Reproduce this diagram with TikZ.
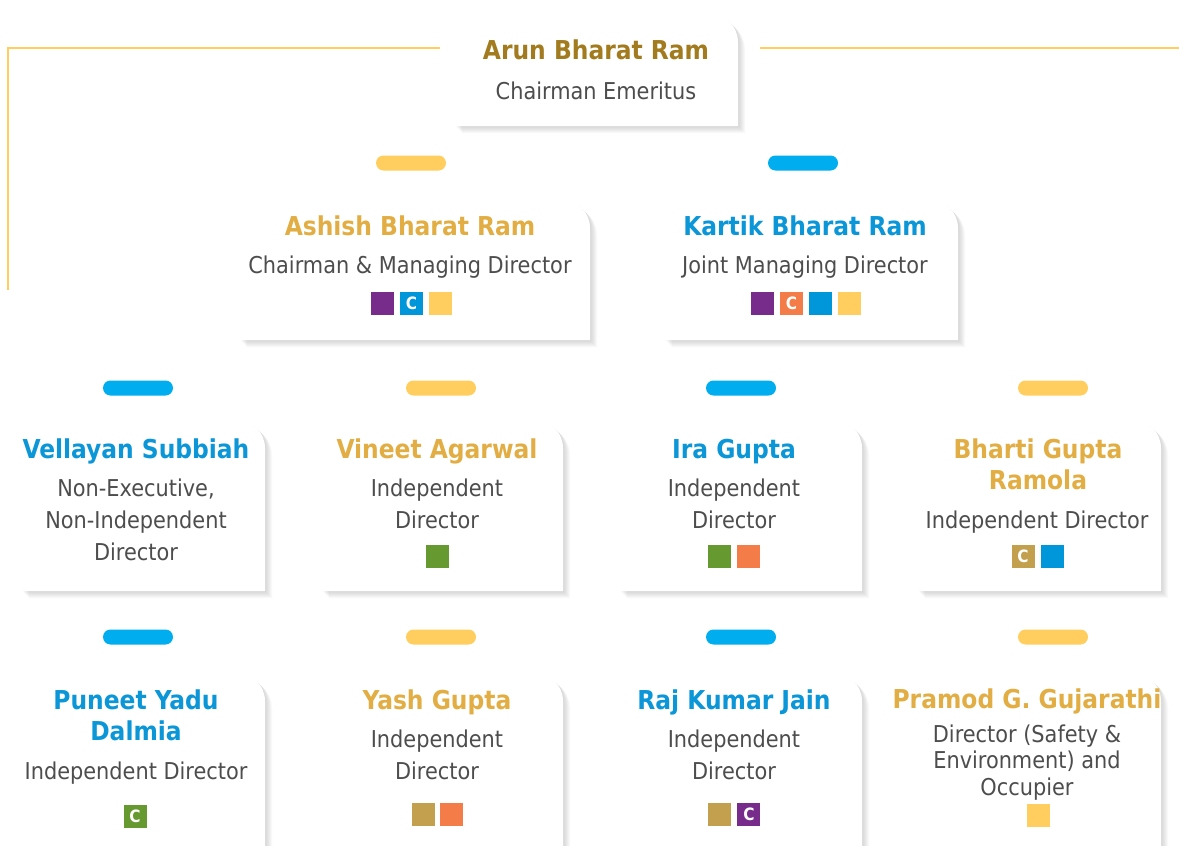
\documentclass[tikz,border=0pt]{standalone}
\usepackage{fontspec}
\setmainfont{DejaVu Sans Condensed}
\usepackage{tikz}
\usetikzlibrary{positioning}

\definecolor{arungold}{HTML}{A37B1F}
\definecolor{namegold}{HTML}{E2AE44}
\definecolor{nameblue}{HTML}{0B96D8}
\definecolor{rolegray}{HTML}{4D4D4D}
\definecolor{pillyellow}{HTML}{FFCE5E}
\definecolor{pillblue}{HTML}{00AEEF}
\definecolor{sqpurple}{HTML}{772C8B}
\definecolor{sqblue}{HTML}{0096DA}
\definecolor{sqorange}{HTML}{F47C48}
\definecolor{sqgreen}{HTML}{66992F}
\definecolor{sqtan}{HTML}{C3A04E}

% white card, top right corner rounded, soft shadow: left, top, right, bottom
\newcommand{\card}[4]{%
  \foreach \d in {1,...,7}
    \fill[black, opacity=.025, shift={(\d,\d)}]
      (#1,#4) -- (#1,#2) [rounded corners=28pt] -- (#3,#2) [sharp corners] -- (#3,#4) -- cycle;
  \fill[white] (#1,#4) -- (#1,#2) [rounded corners=28pt] -- (#3,#2) [sharp corners] -- (#3,#4) -- cycle;
}

\begin{document}
\begin{tikzpicture}[
  x=1pt, y=-1pt,
  nm/.style={font=\bfseries\fontsize{26}{31}\selectfont, align=center, inner sep=0pt, anchor=base},
  goldname/.style={nm, text=namegold},
  bluename/.style={nm, text=nameblue},
  role/.style={font=\fontsize{23.2}{31.7}\selectfont, text=rolegray, align=center,
               inner sep=0pt, anchor=base},
  pill/.style={fill=#1, rounded corners=7.5pt, minimum width=70pt, minimum height=15pt,
               inner sep=0pt},
  sq/.style={fill=#1, minimum size=23pt, inner sep=0pt, text=white,
             font=\bfseries\fontsize{17}{17}\selectfont},
  link/.style={draw=pillyellow, line width=2.8pt}
]
\useasboundingbox (0,0) rectangle (1179,846);
\clip (0,0) rectangle (1179,846);

% cards
\card{455}{14}{738}{126}
\card{240}{200}{590}{340}
\card{665}{200}{958}{340}
\card{22}{420}{265}{591}
\card{322}{420}{563}{591}
\card{620}{420}{862}{591}
\card{918}{420}{1161}{591}
\card{22}{673}{265}{880}
\card{322}{673}{563}{880}
\card{620}{673}{862}{880}
\card{918}{673}{1161}{880}

% frame line
\coordinate (top-left) at (440,48);
\coordinate (left-end) at (8,290);
\coordinate (top-right) at (760,48);
\coordinate (right-end) at (1179,48);
\draw[link] (top-left) -| (left-end);
\draw[link] (top-right) -- (right-end);

% chairman emeritus (text nodes sit on the baseline of their last line)
\node[nm, text=arungold] (arun) at (596,59) {Arun Bharat Ram};
\node[role] (arun-role) at (596,99) {Chairman Emeritus};

% executive directors
\node[pill=pillyellow] (p-ashish) at (411,163) {};
\node[pill=pillblue] (p-kartik) at (803,163) {};
\node[goldname] (ashish) at (410,235) {Ashish Bharat Ram};
\node[role] (ashish-role) at (410,273) {Chairman \& Managing Director};
\node[sq=sqpurple] (ashish-s1) at (382.5,303.5) {};
\node[sq=sqblue, right=5.5pt of ashish-s1] (ashish-s2) {C};
\node[sq=pillyellow, right=5.5pt of ashish-s2] (ashish-s3) {};
\node[bluename] (kartik) at (805,235) {Kartik Bharat Ram};
\node[role] (kartik-role) at (805,273) {Joint Managing Director};
\node[sq=sqpurple] (kartik-s1) at (762.5,303.5) {};
\node[sq=sqorange, right=5.7pt of kartik-s1] (kartik-s2) {C};
\node[sq=sqblue, right=5.7pt of kartik-s2] (kartik-s3) {};
\node[sq=pillyellow, right=5.7pt of kartik-s3] (kartik-s4) {};

% third row
\node[pill=pillblue] (p-vellayan) at (138,388) {};
\node[pill=pillyellow] (p-vineet) at (441,388) {};
\node[pill=pillblue] (p-ira) at (741,388) {};
\node[pill=pillyellow] (p-bharti) at (1053,388) {};
\node[bluename] (vellayan) at (136,458) {Vellayan Subbiah};
\node[role] (vellayan-role) at (136,560) {Non-Executive,\\Non-Independent\\Director};
\node[goldname] (vineet) at (437,458) {Vineet Agarwal};
\node[role] (vineet-role) at (437,528) {Independent\\Director};
\node[sq=sqgreen] (vineet-s1) at (437.5,556.5) {};
\node[bluename] (ira) at (734,458) {Ira Gupta};
\node[role] (ira-role) at (734,528) {Independent\\Director};
\node[sq=sqgreen] (ira-s1) at (719.5,556.5) {};
\node[sq=sqorange, right=6pt of ira-s1] (ira-s2) {};
\node[goldname] (bharti) at (1038,489) {Bharti Gupta\\Ramola};
\node[role] (bharti-role) at (1037,528) {Independent Director};
\node[sq=sqtan] (bharti-s1) at (1023,556.5) {C};
\node[sq=sqblue, right=6.5pt of bharti-s1] (bharti-s2) {};

% fourth row
\node[pill=pillblue] (p-puneet) at (138,637) {};
\node[pill=pillyellow] (p-yash) at (441,637) {};
\node[pill=pillblue] (p-raj) at (741,637) {};
\node[pill=pillyellow] (p-pramod) at (1053,637) {};
\node[bluename] (puneet) at (136,740) {Puneet Yadu\\Dalmia};
\node[role] (puneet-role) at (136,779) {Independent Director};
\node[sq=sqgreen] (puneet-s1) at (135,816) {C};
\node[goldname] (yash) at (437,709) {Yash Gupta};
\node[role] (yash-role) at (437,779) {Independent\\Director};
\node[sq=sqtan] (yash-s1) at (423.5,814.5) {};
\node[sq=sqorange, right=5pt of yash-s1] (yash-s2) {};
\node[bluename] (raj) at (734,709) {Raj Kumar Jain};
\node[role] (raj-role) at (734,779) {Independent\\Director};
\node[sq=sqtan] (raj-s1) at (719.5,814.5) {};
\node[sq=sqpurple, right=6pt of raj-s1] (raj-s2) {C};
\node[goldname] (pramod) at (1027,708) {Pramod G. Gujarathi};
\node[role, font=\fontsize{23.2}{26.5}\selectfont] (pramod-role) at (1027,795)
  {Director (Safety \&\\Environment) and\\Occupier};
\node[sq=pillyellow] (pramod-s1) at (1038.5,815.5) {};
\end{tikzpicture}
\end{document}
